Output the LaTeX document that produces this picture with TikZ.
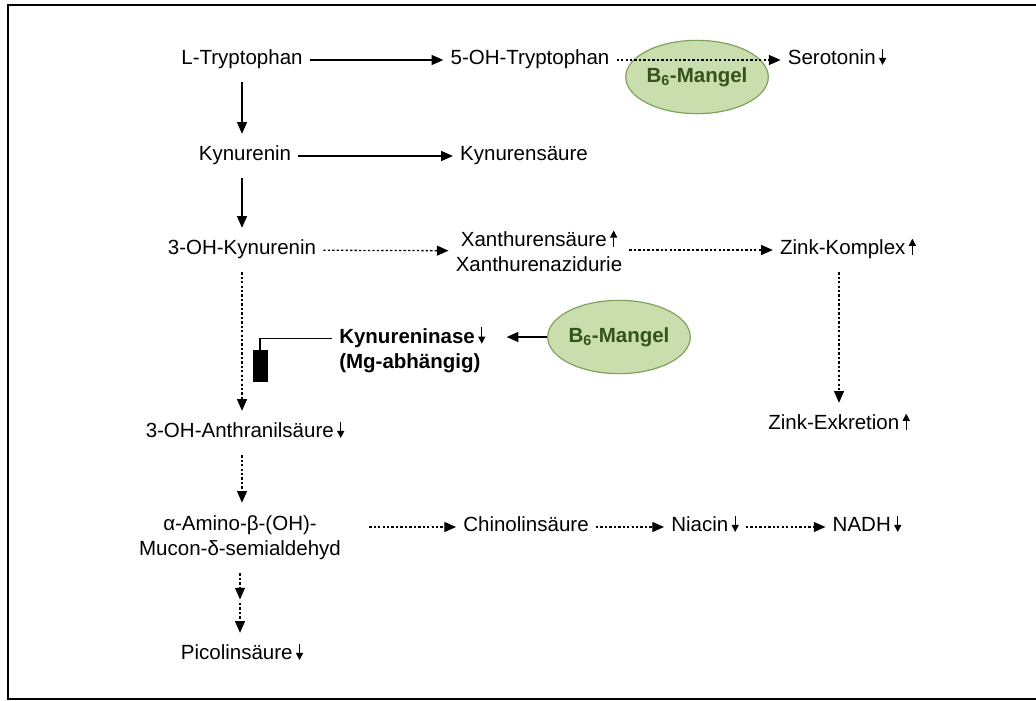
\documentclass[tikz,border=0pt]{standalone}
\usepackage{fontspec}
\setmainfont{Liberation Sans}
\usepackage{xcolor}
\usetikzlibrary{arrows.meta}
\usetikzlibrary{positioning, shapes.geometric}

\definecolor{mangelgruen}{HTML}{CADDAD}
\definecolor{mangelrand}{HTML}{7FA05C}
\definecolor{mangeltext}{HTML}{33531C}

\newcommand{\runter}{\,\tikz[baseline]\draw[-{Triangle[length=6pt,width=6pt]},line width=1pt] (0,1.5ex) -- (0,0);}
\newcommand{\hoch}{\,\tikz[baseline]\draw[-{Triangle[length=6pt,width=6pt]},line width=1pt] (0,0) -- (0,1.5ex);}

\tikzset{
  stoff/.style={font=\fontsize{17.5}{21.5}\selectfont, inner xsep=6pt, inner ysep=11pt},
  zeile/.style={stoff, text height=12pt, text depth=3.5pt},
  hin/.style={-{Triangle[length=10pt,width=8.5pt]}, line width=1.1pt},
  gepunktet/.style={hin, dash pattern=on 2pt off 1.8pt},
  mangel/.style={ellipse, draw=mangelrand, fill=mangelgruen, line width=1pt,
    minimum width=3.7cm, minimum height=2.2cm, inner sep=0pt,
    text=mangeltext, font=\fontsize{17.5}{21.5}\selectfont\bfseries},
  hemmer/.style={fill=black, minimum width=0.45cm, minimum height=0.96cm, inner sep=0pt},
  rahmen/.style={line width=1.6pt}
}

\begin{document}
\begin{tikzpicture}[x=0.03cm,y=-0.03cm]
        \useasboundingbox (0,0) rectangle (1036,701);
        \draw[rahmen] (8,5) rectangle (1060,699);

        % Mangel
        \node[mangel] (b6a) at (697,77) {B\textsubscript{6}-Mangel};
        \node[mangel] (b6b) at (619,337) {B\textsubscript{6}-Mangel};

        \node[zeile] (ltrp) at (242,60) {L-Tryptophan};
        \node[zeile] (ohtrp) at (530,60) {5-OH-Tryptophan};
        \node[zeile] (sero) at (837,60) {Serotonin\runter};
        \node[zeile] (kyn) at (245,156) {Kynurenin};
        \node[zeile] (kynsr) at (524,156) {Kynurensäure};
        \node[zeile] (ohkyn) at (242,250) {3-OH-Kynurenin};
        \node[stoff, align=center] (xan) at (539,251) {Xanthurensäure\hoch\\Xanthurenazidurie};
        \node[zeile] (zink) at (848,250) {Zink-Komplex\hoch};
        \node[stoff, align=left, anchor=west, font=\fontsize{17.5}{21.5}\selectfont\bfseries] (enz) at (332,350) {Kynureninase\runter\\(Mg-abhängig)};
        \node[hemmer] (blk) at (260,366) {};
        \node[zeile] (zexk) at (839,425) {Zink-Exkretion\hoch};
        \node[zeile] (anthr) at (245,433) {3-OH-Anthranilsäure\runter};
        \node[stoff, align=center] (amino) at (240,538) {α-Amino-β-(OH)-\\Mucon-δ-semialdehyd};
        \node[zeile] (chin) at (526,527) {Chinolinsäure};
        \node[zeile] (nia) at (705,527) {Niacin\runter};
        \node[zeile] (nadh) at (867,527) {NADH\runter};
        \node[zeile] (pico) at (242,655) {Picolinsäure\runter};
        \coordinate (mitte) at (240,603);

        % Pfeile
        \draw[hin] (ltrp) -- (ohtrp);
        \draw[gepunktet] (ohtrp) -- (sero);
        \draw[hin] (ltrp.south) -- (ltrp.south |- kyn.north);
        \draw[hin] (kyn) -- (kynsr);
        \draw[hin] (ltrp.south |- kyn.south) -- (ltrp.south |- ohkyn.north);
        \draw[gepunktet] (ohkyn) -- (xan);
        \draw[gepunktet] (xan.east |- zink) -- (zink);
        \draw[gepunktet] (ltrp.south |- ohkyn.south) -- (ltrp.south |- anthr.north);
        \draw[gepunktet] (zink.south -| zexk.north) -- (zexk.north);
        \draw[hin, shorten >=12pt] (b6b.west) -- (b6b.west -| enz.east);
        \draw[line width=1.1pt] ([yshift=10pt]enz.west) -| (blk.north);
        \draw[gepunktet] (ltrp.south |- anthr.south) -- (ltrp.south |- amino.north);
        \draw[gepunktet, shorten <=18pt] (amino.east |- chin) -- (chin);
        \draw[gepunktet] (chin) -- (nia);
        \draw[gepunktet] (nia) -- (nadh);
        \draw[gepunktet] (amino.south) -- ([yshift=3pt]mitte);
        \draw[gepunktet] (mitte) -- (mitte |- pico.north);
\end{tikzpicture}
\end{document}
